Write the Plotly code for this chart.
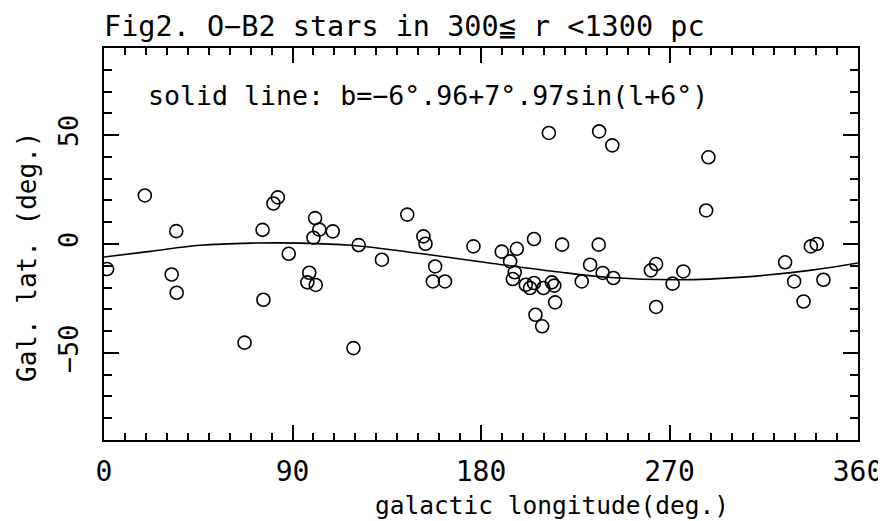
import plotly.graph_objects as go

# Star positions (galactic longitude, latitude)
star_l = [1.5, 19.5, 34.5, 32.3, 34.7, 75.7, 76.1, 67.1, 80.9, 83.0, 88.2,
          100.8, 102.8, 109.2, 100.0, 98.0, 97.1, 101.1, 121.6, 132.7, 119.1,
          144.8, 152.5, 153.5, 158.1, 157.0, 162.8, 176.4, 189.9, 197.1, 193.9,
          196.1, 195.2, 205.3, 201.4, 203.4, 205.3, 209.8, 213.8, 215.0, 215.4,
          206.0, 209.2, 212.4, 218.7, 228.1, 232.1, 236.2, 236.4, 242.7, 238.1,
          243.2, 261.1, 263.6, 263.6, 271.5, 288.6, 287.5, 276.6, 325.2, 329.5,
          334.0, 337.5, 340.3, 343.5]
star_b = [-11.5, 22.3, 5.9, -14.0, -22.4, 6.5, -25.6, -45.3, 18.6, 21.4, -4.5,
          11.9, 6.6, 5.8, 2.9, -13.2, -17.6, -18.8, -0.5, -7.2, -47.8,
          13.5, 3.5, 0.1, -10.3, -17.2, -17.2, -1.1, -3.5, -2.2, -8.0,
          -13.0, -16.1, 2.3, -18.7, -20.2, -17.9, -20.2, -17.6, -19.1, -26.8,
          -32.5, -37.8, 51.0, -0.3, -17.2, -9.5, -0.3, 51.7, 45.3, -13.3,
          -15.6, -12.1, -9.2, -28.9, -18.2, 39.8, 15.4, -12.6, -8.4, -17.2,
          -26.4, -1.1, 0.0, -16.4]

# Solid fitted line
line_l = [0, 22, 46, 70, 94, 118, 152, 184, 215, 242, 274, 305, 337, 360]
line_b = [-6.0, -3.4, -0.6, 0.4, 0.4, -0.6, -4.5, -8.7, -12.6, -15.4, -16.4, -15.2, -12.1, -8.7]

x_ticks = [0, 90, 180, 270, 360]
x_ticktext = ["0", "90", "180", "270", "360"]
y_ticks = [-50, 0, 50]
y_ticktext = ["\u221250", "0", "50"]

title_text = "Fig2. O\u2212B2 stars in 300\u2266 r <1300 pc"
fit_text = "solid line: b=\u22126\u00b0.96+7\u00b0.97sin(l+6\u00b0)"
x_title = "galactic longitude(deg.)"
y_title = "Gal. lat. (deg.)"

FONT = "DejaVu Sans Mono"
PLOT_W, PLOT_H = 754, 392
PX0, PY1 = 104, 440  # page position of plot-area left / bottom edges

fig = go.Figure()
fig.add_trace(go.Scatter(x=line_l, y=line_b, mode="lines",
                         line=dict(color="black", width=1.6, shape="spline"),
                         showlegend=False, hoverinfo="skip"))
fig.add_trace(go.Scatter(x=star_l, y=star_b, mode="markers",
                         marker=dict(symbol="circle-open", size=13, color="black",
                                     line=dict(width=1.6, color="black")),
                         showlegend=False))

axis_common = dict(showgrid=False, zeroline=False, showline=True, linecolor="black",
                   linewidth=2, ticks="inside", mirror="allticks", tickcolor="black",
                   tickwidth=1.5, ticklen=15, automargin=False)

fig.update_xaxes(range=[0, 360], tickvals=x_ticks, ticktext=x_ticktext,
                 tickfont=dict(family=FONT, size=28, color="black"),
                 ticklabelstandoff=5,
                 minor=dict(ticks="inside", dtick=10, tick0=0, ticklen=7,
                            tickwidth=1.5, tickcolor="black"),
                 **axis_common)
fig.update_yaxes(range=[-90, 90], tickvals=y_ticks, ticktext=y_ticktext,
                 tickangle=-90,
                 tickfont=dict(family=FONT, size=27, color="black"),
                 ticklabelstandoff=13,
                 minor=dict(ticks="inside", dtick=10, tick0=0, ticklen=8,
                            tickwidth=1.5, tickcolor="black"),
                 **axis_common)

fig.add_annotation(text=title_text, xref="paper", yref="paper", x=0, y=1,
                   xanchor="left", yanchor="bottom", yshift=3, xshift=-2,
                   showarrow=False,
                   font=dict(family=FONT, size=28.5, color="black"))
fig.add_annotation(text=fit_text, xref="paper", yref="paper", x=(146 - PX0) / PLOT_W,
                   y=(PY1 - 95) / PLOT_H, xanchor="left", yanchor="middle",
                   showarrow=False,
                   font=dict(family=FONT, size=26.6, color="black"))
fig.add_annotation(text=x_title, xref="paper", yref="paper", x=(552 - PX0) / PLOT_W,
                   y=(PY1 - 506) / PLOT_H, xanchor="center", yanchor="middle",
                   showarrow=False,
                   font=dict(family=FONT, size=24.5, color="black"))
fig.add_annotation(text=y_title, xref="paper", yref="paper", x=(27 - PX0) / PLOT_W,
                   y=(PY1 - 257) / PLOT_H, xanchor="center", yanchor="middle",
                   textangle=-90, showarrow=False,
                   font=dict(family=FONT, size=26, color="black"))

# The page body adds an 8 px offset, so the figure is 8 px smaller and margins shifted
fig.update_layout(width=878, height=513, plot_bgcolor="white", paper_bgcolor="white",
                  margin=dict(l=96, r=28, t=40, b=81))

fig.write_html("out.html")
